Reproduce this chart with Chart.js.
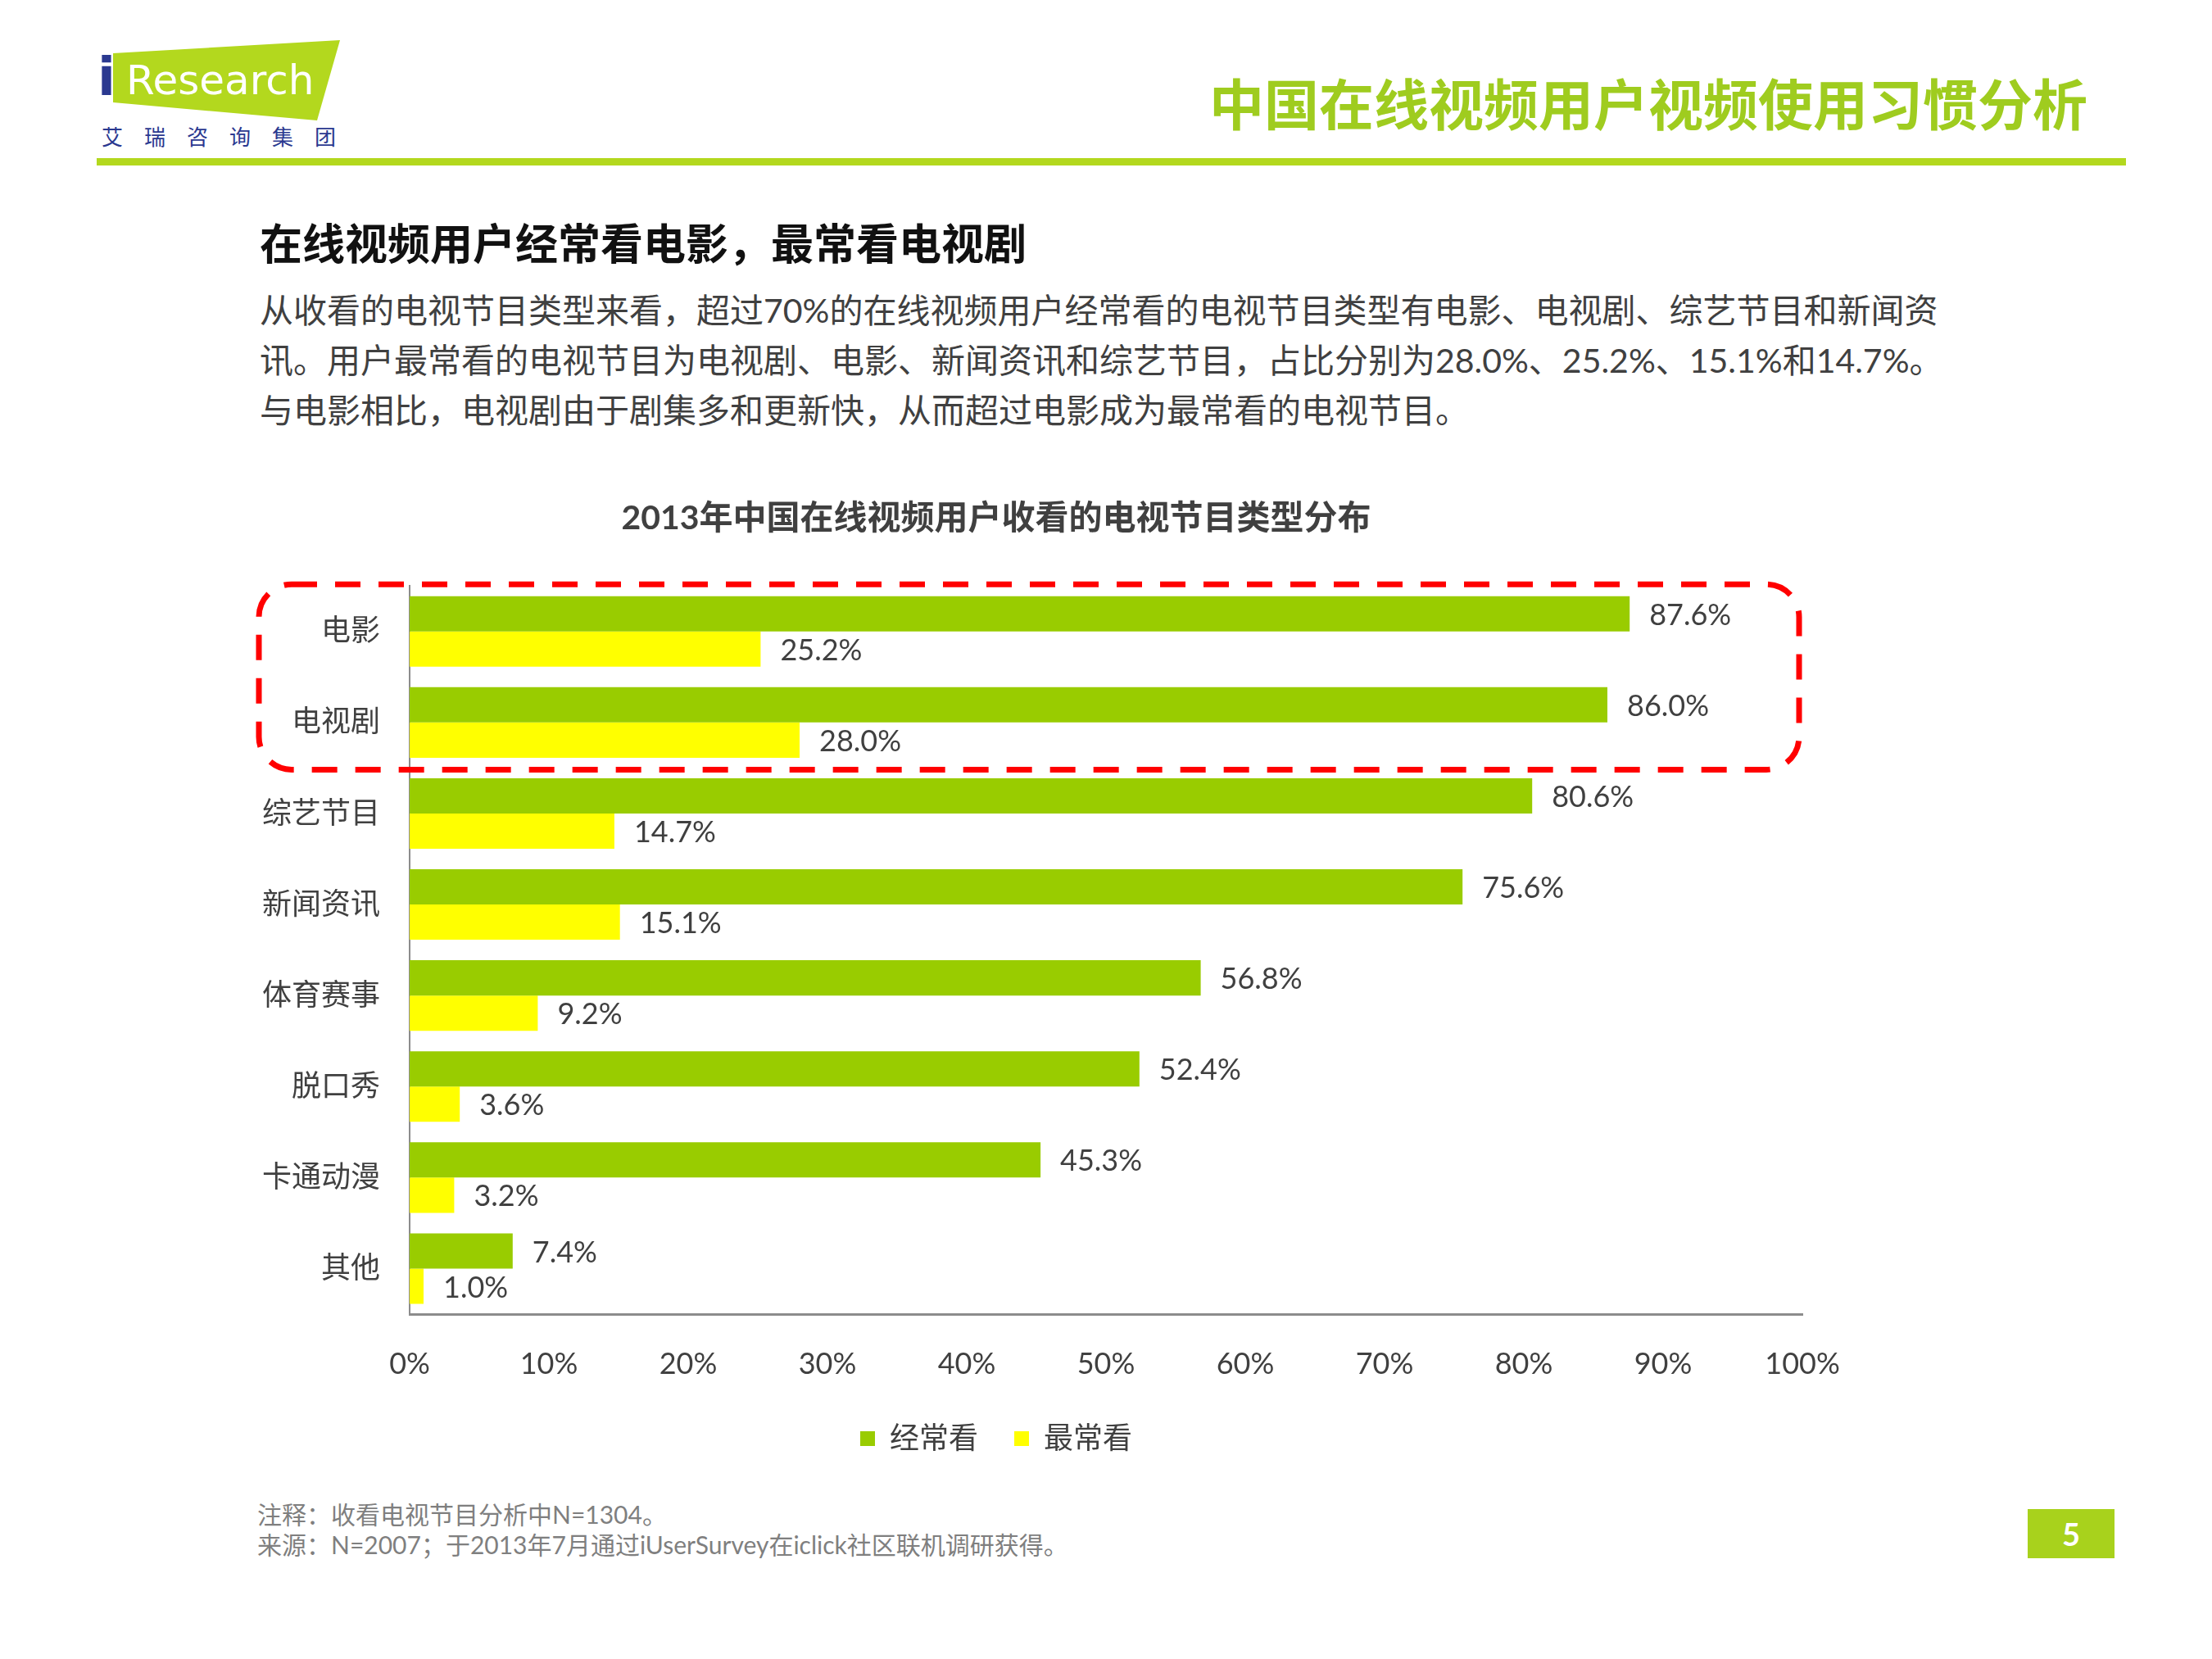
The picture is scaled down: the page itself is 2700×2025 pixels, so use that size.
<!DOCTYPE html>
<html>
<head>
<meta charset="utf-8">
<script src="https://cdn.jsdelivr.net/npm/chart.js@4"></script>
<style>
  body { margin: 0; width: 2700px; height: 2025px; background: #fff; position: relative; overflow: hidden;
         font-family: Lato, "Noto Sans CJK SC", sans-serif; }
  .abs { position: absolute; white-space: nowrap; }
  #logo { left: 138px; top: 49px; width: 278px; height: 100px; background: #b3d81e;
          clip-path: polygon(0 16px, 277px 0, 249px 98px, 0 76px); }
  #logoI { left: 119px; top: 56px; font: bold 64px "DejaVu Sans", sans-serif; color: #2b3990; line-height: 76px; }
  #logoR { left: 154px; top: 67px; font: 50px "DejaVu Sans", sans-serif; color: #fff; line-height: 62px; }
  #logoCn { left: 124px; top: 151px; font: 26px "Noto Sans CJK SC"; color: #2b3990; letter-spacing: 26px; line-height: 30px; }
  #hline { left: 118px; top: 193px; width: 2477px; height: 9px; background: #b3d81e; }
  #head { right: 152px; top: 84px; font: bold 67px "Noto Sans CJK SC"; color: #9fcc1f; line-height: 80px; }
  #sub { left: 317px; top: 264px; font: bold 52px "Noto Sans CJK SC"; color: #111; line-height: 62px; }
  #para { left: 317px; top: 348px; font: 41px Lato, "Noto Sans CJK SC"; color: #404040; line-height: 61px; }
  #notes { left: 314px; top: 1830px; font: 30px Lato, "Noto Sans CJK SC"; color: #7f7f7f; line-height: 37px; }
  #page { left: 2475px; top: 1842px; width: 106px; height: 60px; background: #a8d21c; color: #fff;
          font: bold 38px Lato, sans-serif; text-align: center; line-height: 60px; }
  #box { position: absolute; left: 0; top: 560px; width: 2700px; height: 1224px; }
</style>
</head>
<body>
<div class="abs" id="logo"></div>
<div class="abs" id="logoI">i</div>
<div class="abs" id="logoR">Research</div>
<div class="abs" id="logoCn">艾瑞咨询集团</div>
<div class="abs" id="hline"></div>
<div class="abs" id="head">中国在线视频用户视频使用习惯分析</div>
<div class="abs" id="sub">在线视频用户经常看电影，最常看电视剧</div>
<div class="abs" id="para">从收看的电视节目类型来看，超过70%的在线视频用户经常看的电视节目类型有电影、电视剧、综艺节目和新闻资<br>讯。用户最常看的电视节目为电视剧、电影、新闻资讯和综艺节目，占比分别为28.0%、25.2%、15.1%和14.7%。<br>与电影相比，电视剧由于剧集多和更新快，从而超过电影成为最常看的电视节目。</div>
<div class="abs" id="notes">注释：收看电视节目分析中N=1304。<br>来源：N=2007；于2013年7月通过iUserSurvey在iclick社区联机调研获得。</div>
<div class="abs" id="page">5</div>
<div id="box"><canvas id="chart"></canvas></div>
<script>
const categories = ['电影', '电视剧', '综艺节目', '新闻资讯', '体育赛事', '脱口秀', '卡通动漫', '其他'];
const often = [87.6, 86.0, 80.6, 75.6, 56.8, 52.4, 45.3, 7.4];
const most = [25.2, 28.0, 14.7, 15.1, 9.2, 3.6, 3.2, 1.0];
const seriesNames = ['经常看', '最常看'];
const xTicks = [0, 10, 20, 30, 40, 50, 60, 70, 80, 90, 100];

const font = "Lato, 'Noto Sans CJK SC', sans-serif";
const grey = '#404040';

// value labels right of every bar
const valueLabels = {
  id: 'valueLabels',
  afterDatasetsDraw(chart) {
    const ctx = chart.ctx;
    ctx.save();
    ctx.font = '36px ' + font;
    ctx.fillStyle = grey;
    ctx.textAlign = 'left';
    ctx.textBaseline = 'middle';
    chart.data.datasets.forEach((ds, i) => {
      chart.getDatasetMeta(i).data.forEach((bar, j) => {
        ctx.fillText(ds.data[j].toFixed(1) + '%', bar.x + 24, bar.y + 2);
      });
    });
    ctx.restore();
  }
};

// red dashed frame round the first two categories
const highlight = {
  id: 'highlight',
  afterDraw(chart) {
    const { ctx, chartArea, scales } = chart;
    const band = scales.y.getPixelForValue(1) - scales.y.getPixelForValue(0);
    const top = scales.y.getPixelForValue(0) - band / 2 - 2;
    const bottom = scales.y.getPixelForValue(1) + band / 2 + 2;
    const left = chartArea.left - 184;
    const right = scales.x.getPixelForValue(100) - 4;
    ctx.save();
    ctx.strokeStyle = '#ff0000';
    ctx.lineWidth = 7;
    ctx.setLineDash([31, 22]);
    ctx.beginPath();
    ctx.roundRect(left, top, right - left, bottom - top, 40);
    ctx.stroke();
    ctx.restore();
  }
};

new Chart(document.getElementById('chart'), {
  type: 'bar',
  data: {
    labels: categories,
    datasets: [
      { label: seriesNames[0], data: often, backgroundColor: '#99cc00' },
      { label: seriesNames[1], data: most, backgroundColor: '#ffff00' }
    ]
  },
  options: {
    indexAxis: 'y',
    responsive: true,
    maintainAspectRatio: false,
    animation: false,
    categoryPercentage: 0.775,
    barPercentage: 1,
    layout: { padding: { left: 232, right: 500, top: 0, bottom: 0 } },
    plugins: {
      title: {
        display: true,
        text: '2013年中国在线视频用户收看的电视节目类型分布',
        color: grey,
        font: { family: font, size: 41, weight: 'bold' },
        padding: { top: 48, bottom: 58 }
      },
      legend: {
        position: 'bottom',
        labels: {
          color: grey,
          font: { family: font, size: 36 },
          boxWidth: 18,
          boxHeight: 18,
          padding: 44
        }
      },
      tooltip: { enabled: false }
    },
    scales: {
      x: {
        min: 0,
        max: 100,
        afterBuildTicks(scale) { scale.ticks = xTicks.map(v => ({ value: v })); },
        afterFit(scale) { scale.height = 90; },
        grid: { display: false, drawTicks: false },
        border: { display: true, color: '#8c8c8c', width: 3 },
        ticks: {
          color: grey,
          font: { family: font, size: 36 },
          padding: 40,
          callback: v => v + '%'
        }
      },
      y: {
        afterFit(scale) { scale.width = 268; },
        grid: { display: false, drawTicks: false },
        border: { display: true, color: '#8c8c8c', width: 2 },
        ticks: {
          color: grey,
          font: { family: font, size: 36 },
          padding: 36
        }
      }
    }
  },
  plugins: [valueLabels, highlight]
});
</script>
</body>
</html>
